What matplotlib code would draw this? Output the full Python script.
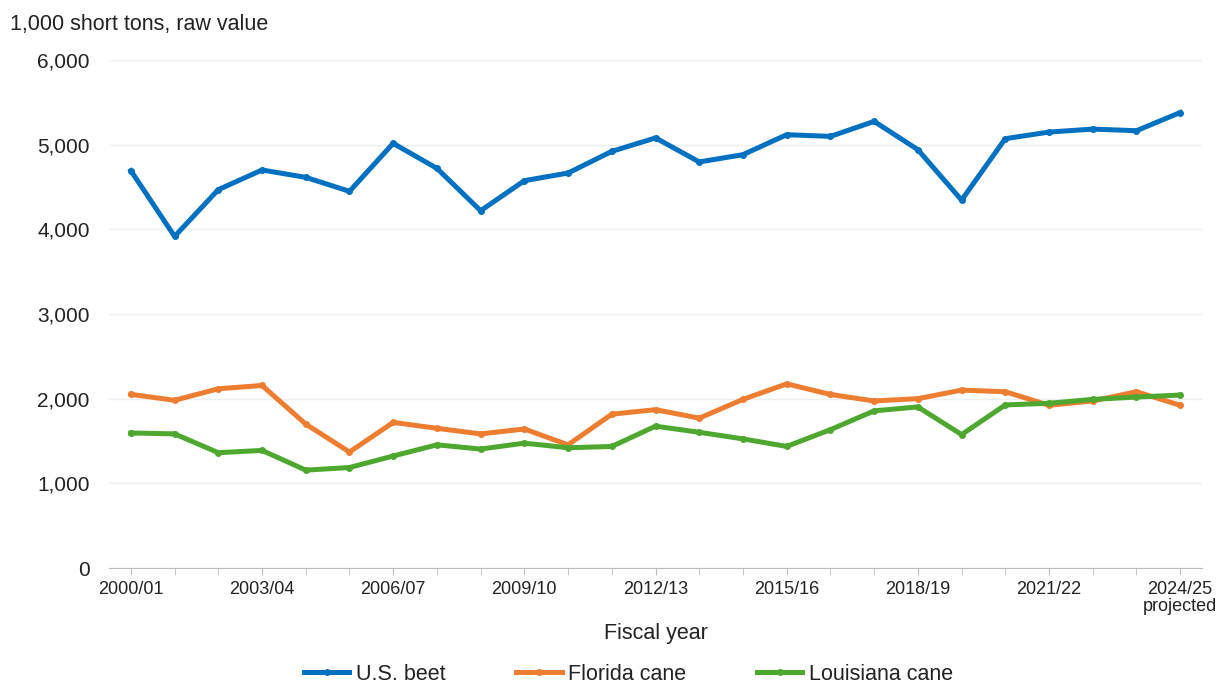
import numpy as np
import matplotlib
matplotlib.use("Agg")
import matplotlib.pyplot as plt

# ======================
# Данные
# ======================
years = ["2000/01", "2001/02", "2002/03", "2003/04", "2004/05", "2005/06",
         "2006/07", "2007/08", "2008/09", "2009/10", "2010/11", "2011/12",
         "2012/13", "2013/14", "2014/15", "2015/16", "2016/17", "2017/18",
         "2018/19", "2019/20", "2020/21", "2021/22", "2022/23", "2023/24",
         "2024/25"]

beet = [4693, 3917, 4469, 4701, 4614, 4449, 5016, 4720, 4220, 4575, 4665, 4921,
        5080, 4796, 4882, 5118, 5098, 5275, 4941, 4345, 5071, 5149, 5184, 5165,
        5380]
florida = [2051, 1981, 2117, 2156, 1700, 1370, 1720, 1650, 1584, 1642, 1455, 1817,
           1870, 1770, 1992, 2175, 2050, 1973, 2000, 2101, 2082, 1922, 1973, 2082,
           1922]
louisiana = [1595, 1584, 1362, 1389, 1156, 1187, 1323, 1455, 1405, 1475, 1420, 1436,
             1675, 1603, 1525, 1436, 1634, 1856, 1903, 1576, 1926, 1946, 1992, 2019,
             2043]

tick_labels = ["2000/01", "2003/04", "2006/07", "2009/10", "2012/13",
               "2015/16", "2018/19", "2021/22", "2024/25\nprojected"]

plt.rcParams['font.family'] = ['Liberation Sans', 'DejaVu Sans']

# ======================
# График
# ======================
fig = plt.figure(figsize=(12.18, 6.89), dpi=100)
ax = fig.add_axes([0.0895, 0.1756, 0.8974, 0.7373])

x = np.arange(len(years))
lw = 3.6
ax.plot(x, beet, '-o', color='#0070C0', linewidth=lw, markersize=4, label='U.S. beet')
ax.plot(x, florida, '-o', color='#ED7D31', linewidth=lw, markersize=4, label='Florida cane')
ax.plot(x, louisiana, '-o', color='#4EA72E', linewidth=lw, markersize=4, label='Louisiana cane')

ax.set_xlim(-0.5, len(years) - 0.5)
ax.set_ylim(0, 6000)
ax.set_yticks(np.arange(0, 6001, 1000))
ax.set_yticklabels([f"{v:,}" for v in range(0, 6001, 1000)], fontsize=15, color='#222222')

ax.set_xticks(x, minor=True)
ax.set_xticks(x[::3])
ax.set_xticklabels(tick_labels, fontsize=13, color='#222222', linespacing=1.0)
ax.tick_params(axis='x', which='both', length=5, color='#BBBBBB', pad=4)
ax.tick_params(axis='y', length=0, pad=14)

ax.grid(axis='y', color='#EEEEEE', linewidth=1)
ax.set_axisbelow(True)
for s in ['top', 'right', 'left']:
    ax.spines[s].set_visible(False)
ax.spines['bottom'].set_color('#BBBBBB')

ax.set_xlabel('Fiscal year', fontsize=15.5, color='#222222', labelpad=6)
fig.text(0.008, 0.965, '1,000 short tons, raw value', fontsize=15.5, color='#222222',
         va='center', ha='left')

fig.legend(loc='lower center', bbox_to_anchor=(0.516, -0.022), ncol=3, frameon=False,
           fontsize=15.5, handlelength=2.1, columnspacing=3.3, handletextpad=0.3,
           labelcolor='#222222')

fig.savefig('out.png', dpi=100)
